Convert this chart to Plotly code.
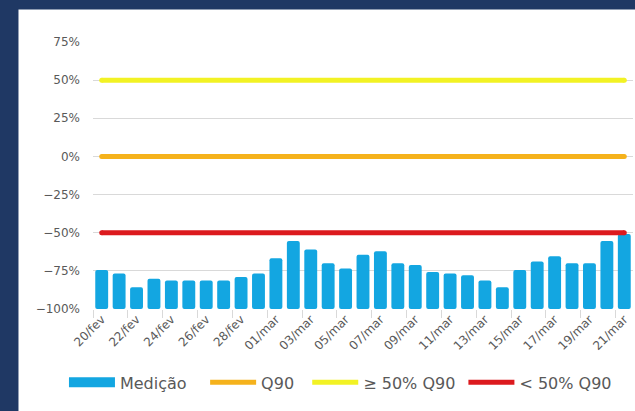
import plotly.graph_objects as go

dates = ["20/fev", "21/fev", "22/fev", "23/fev", "24/fev", "25/fev", "26/fev", "27/fev",
         "28/fev", "29/fev", "01/mar", "02/mar", "03/mar", "04/mar", "05/mar", "06/mar",
         "07/mar", "08/mar", "09/mar", "10/mar", "11/mar", "12/mar", "13/mar", "14/mar",
         "15/mar", "16/mar", "17/mar", "18/mar", "19/mar", "20/mar", "21/mar"]
medicao = [-0.745, -0.768, -0.858, -0.802, -0.813, -0.813, -0.813, -0.813,
           -0.790, -0.768, -0.667, -0.554, -0.610, -0.700, -0.734, -0.644,
           -0.622, -0.700, -0.712, -0.757, -0.768, -0.779, -0.813, -0.858,
           -0.745, -0.689, -0.655, -0.700, -0.700, -0.554, -0.509]
q90 = 0.0
upper = 0.5
lower = -0.5
axis_base = -1.0
y_ticks = [-1.0, -0.75, -0.5, -0.25, 0.0, 0.25, 0.5, 0.75]

NAVY = "#1F3864"
GRAY = "#595959"
FONT = "DejaVu Sans"
BLUE = "#13A6E1"

fig = go.Figure()
fig.add_trace(go.Bar(
    x=dates, y=[v - axis_base for v in medicao], base=axis_base,
    name="Medição", marker=dict(color=BLUE, cornerradius=2, line=dict(width=0)),
    showlegend=False,
))
# legend entry for the bars
fig.add_trace(go.Scatter(x=[None], y=[None], mode="lines", name="Medição",
                         line=dict(color=BLUE, width=10), legend="legend"))
for val, name, col, lg in [(q90, "Q90", "#F5B21C", "legend2"),
                           (upper, "≥ 50% Q90", "#F2F224", "legend3"),
                           (lower, "< 50% Q90", "#DC1A1E", "legend4")]:
    fig.add_trace(go.Scatter(x=[dates[0], dates[-1]], y=[val, val], mode="lines",
                             name=name, line=dict(color=col, width=5), legend=lg))
    # rounded line ends
    fig.add_trace(go.Scatter(x=[dates[0], dates[-1]], y=[val, val], mode="markers",
                             marker=dict(color=col, size=5, line=dict(width=0)),
                             showlegend=False, hoverinfo="skip"))

fig.add_shape(type="rect", xref="paper", yref="paper", x0=-0.138, x1=1.02, y0=-0.45, y1=1.122,
              fillcolor="white", line=dict(width=0), layer="below")

def leg(xpx):
    return dict(orientation="h", x=(xpx - 93) / 539.4, xanchor="left", y=-0.275,
                yanchor="middle", font=dict(size=16, color=GRAY, family=FONT),
                itemwidth=46, bgcolor="rgba(0,0,0,0)")

fig.update_layout(
    width=635, height=411,
    margin=dict(l=93, r=2, t=42, b=102),
    paper_bgcolor=NAVY, plot_bgcolor="white",
    bargap=0.26,
    font=dict(family=FONT, color=GRAY),
    legend=leg(64), legend2=leg(205), legend3=leg(307), legend4=leg(463),
    xaxis=dict(type="category", range=[-0.5, len(dates) - 0.5],
               tickmode="linear", tick0=0, dtick=2, tickson="boundaries",
               ticks="outside", ticklen=8, tickcolor="#D9D9D9", showgrid=False,
               tickangle=-45, tickfont=dict(size=12, color=GRAY), showline=False),
    yaxis=dict(range=[-1.0, 0.75], tickvals=y_ticks, tickformat=".0%",
               showgrid=True, gridcolor="#D9D9D9", gridwidth=1, zeroline=False,
               tickfont=dict(size=12, color=GRAY), ticklabelstandoff=12),
)

fig.write_html("out.html", config={"displayModeBar": False},
               post_script="document.body.style.margin='0';document.body.style.overflow='hidden';")
